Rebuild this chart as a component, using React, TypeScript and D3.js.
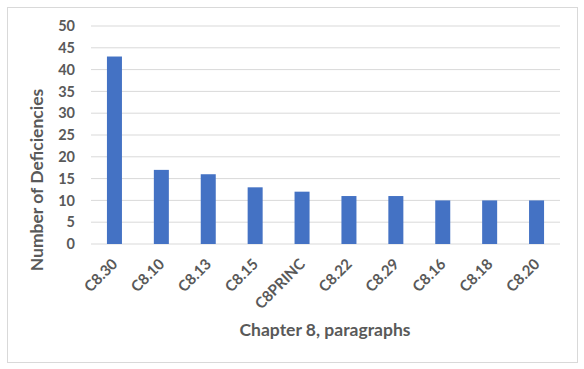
import React from "react";
import * as d3 from "d3";

const categories = ["C8.30", "C8.10", "C8.13", "C8.15", "C8PRINC", "C8.22", "C8.29", "C8.16", "C8.18", "C8.20"];
const values = [43, 17, 16, 13, 12, 11, 11, 10, 10, 10];
const yTicks = [0, 5, 10, 15, 20, 25, 30, 35, 40, 45, 50];

const W = 584, H = 369;
const left = 91, right = 560, top = 26, bottom = 244;
const font = "Lato, 'Open Sans', sans-serif";

export default function App() {
  const x = d3.scaleBand<string>().domain(categories).range([left, right]).paddingInner(0.68).paddingOuter(0.34);
  const y = d3.scaleLinear().domain([0, 50]).range([bottom, top]);
  return (
    <svg width={W} height={H} style={{ position: "absolute", left: 0, top: 0, background: "#fff" }}>
      <rect x={7.5} y={7.5} width={570} height={355} fill="#fff" stroke="#d9d9d9" />
      {yTicks.map((t) => (
        <g key={t}>
          <line x1={left} x2={right} y1={y(t)} y2={y(t)} stroke="#d9d9d9" strokeWidth={1} />
          <text x={75} y={y(t)} dy="0.36em" textAnchor="end" fontFamily={font} fontWeight="bold" fontSize={14.5} fill="#595959">{t}</text>
        </g>
      ))}
      {categories.map((c, i) => (
        <rect key={c} x={x(c)} y={y(values[i])} width={x.bandwidth()} height={y(0) - y(values[i])} fill="#4472c4" />
      ))}
      {categories.map((c) => {
        const cx = (x(c) as number) + x.bandwidth() / 2 + 4;
        const cy = 265;
        return (
          <text key={c} x={cx} y={cy} textAnchor="end" transform={`rotate(-45 ${cx} ${cy})`} fontFamily={font} fontWeight="bold" fontSize={15} fill="#595959">{c}</text>
        );
      })}
      <text x={325} y={336} textAnchor="middle" fontFamily={font} fontWeight="bold" fontSize={17.5} fill="#595959">Chapter 8, paragraphs</text>
      <text x={0} y={0} transform={`translate(43 180) rotate(-90)`} textAnchor="middle" fontFamily={font} fontWeight="bold" fontSize={17.5} fill="#595959">Number of Deficiencies</text>
    </svg>
  );
}
